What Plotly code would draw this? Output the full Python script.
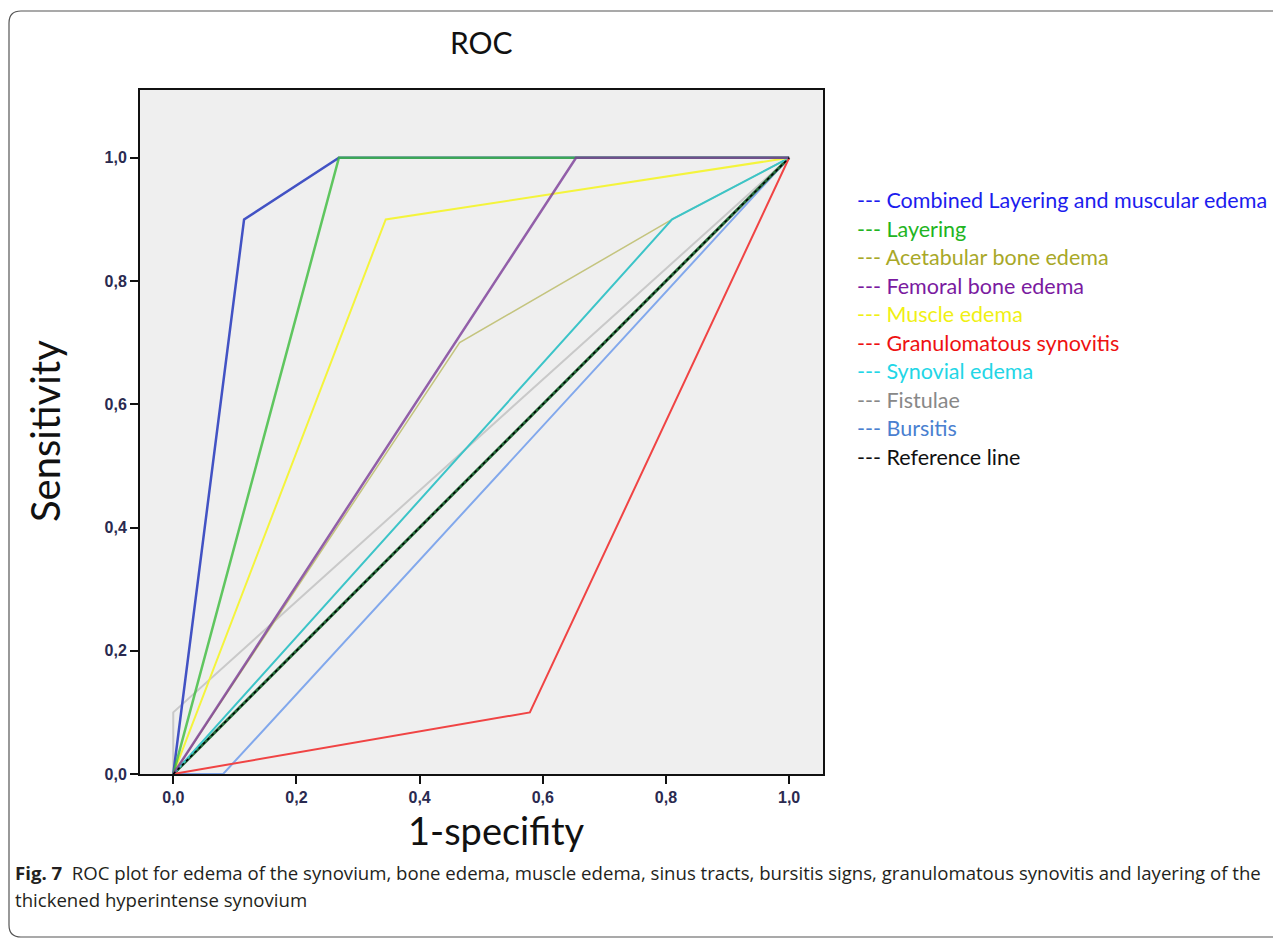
import plotly.graph_objects as go

# ---------------- data ----------------
chart_title = "ROC"
x_title = "1-specifity"
y_title = "Sensitivity"
tick_vals = [0.0, 0.2, 0.4, 0.6, 0.8, 1.0]
tick_text = ["0,0", "0,2", "0,4", "0,6", "0,8", "1,0"]

combined_x = [0.0, 0.115, 0.269, 1.0]
combined_y = [0.0, 0.9, 1.0, 1.0]
layering_x = [0.0, 0.269, 1.0]
layering_y = [0.0, 1.0, 1.0]
acetabular_x = [0.0, 0.465, 0.81, 1.0]
acetabular_y = [0.0, 0.7, 0.9, 1.0]
femoral_x = [0.0, 0.654, 1.0]
femoral_y = [0.0, 1.0, 1.0]
muscle_x = [0.0, 0.345, 1.0]
muscle_y = [0.0, 0.9, 1.0]
granulomatous_x = [0.0, 0.579, 1.0]
granulomatous_y = [0.0, 0.1, 1.0]
synovial_x = [0.0, 0.81, 1.0]
synovial_y = [0.0, 0.9, 1.0]
fistulae_x = [0.0, 0.0, 1.0]
fistulae_y = [0.0, 0.1, 1.0]
bursitis_x = [0.0, 0.081, 1.0]
bursitis_y = [0.0, 0.0, 1.0]
reference_x = [0.0, 1.0]
reference_y = [0.0, 1.0]

legend_labels = [
    "Combined Layering and muscular edema",
    "Layering",
    "Acetabular bone edema",
    "Femoral bone edema",
    "Muscle edema",
    "Granulomatous synovitis",
    "Synovial edema",
    "Fistulae",
    "Bursitis",
    "Reference line",
]
legend_colors = ["#1c1cee", "#22b422", "#a8a828", "#7a1aa0", "#f0f014",
                 "#ee1111", "#22d6e6", "#888888", "#4a80d0", "#111111"]

caption_bold = "Fig. 7"
caption_line1 = ("ROC plot for edema of the synovium, bone edema, muscle edema, sinus tracts, "
                 "bursitis signs, granulomatous synovitis and layering of the")
caption_line2 = "thickened hyperintense synovium"

# ---------------- figure ----------------
OFF = 8                      # page body margin in the browser
W, H = 1281 - OFF, 940 - OFF
L, R, T, B = 140, 823, 90, 774  # plot-area pixel box in window coordinates


def px(x):
    return (x - L) / (R - L)


def py(y):
    return (B - y) / (B - T)


fig = go.Figure()

traces = [
    (fistulae_x, fistulae_y, "#c9c9c9", 2, 1.0, "Fistulae"),
    (bursitis_x, bursitis_y, "#82a8ec", 2, 1.0, "Bursitis"),
    (reference_x, reference_y, "#256b3a", 3, 1.0, "Reference line"),
    (acetabular_x, acetabular_y, "#c4c47e", 1.5, 1.0, "Acetabular bone edema"),
    (synovial_x, synovial_y, "#3cc4c8", 2, 1.0, "Synovial edema"),
    (granulomatous_x, granulomatous_y, "#f04444", 2, 1.0, "Granulomatous synovitis"),
    (muscle_x, muscle_y, "#f4f43c", 2, 1.0, "Muscle edema"),
    (combined_x, combined_y, "#4252c4", 2.5, 1.0, "Combined Layering and muscular edema"),
    (layering_x, layering_y, "#3cbc3c", 2.5, 0.8, "Layering"),
    (femoral_x, femoral_y, "#7c3c98", 2.5, 0.8, "Femoral bone edema"),
]
for xs, ys, col, w, op, name in traces:
    fig.add_trace(go.Scatter(x=xs, y=ys, mode="lines", name=name, opacity=op,
                             line=dict(color=col, width=w), hoverinfo="skip"))
# black dotted overlay on the reference line
fig.add_trace(go.Scatter(x=reference_x, y=reference_y, mode="lines", name="Reference line",
                         line=dict(color="#000000", width=1.5, dash="dot"),
                         hoverinfo="skip", showlegend=False))

tick_font = dict(family="Arial, Liberation Sans", size=16, color="#2a2a50")
axis_style = dict(tickvals=tick_vals,
                  ticktext=["<b>%s</b>" % t for t in tick_text],
                  showgrid=False, zeroline=False, showline=True, mirror=True,
                  linecolor="#111111", linewidth=2, ticks="outside", ticklen=8,
                  tickwidth=2, tickcolor="#111111", tickfont=tick_font)
fig.update_xaxes(range=[-0.054, 1.055], **axis_style)
fig.update_yaxes(range=[0, 1.11], **axis_style)

ann = []
ann.append(dict(text=chart_title, x=px(481), y=py(42), xref="paper", yref="paper",
                showarrow=False, xanchor="center", yanchor="middle",
                font=dict(family="Lato", size=30, color="#111111")))
ann.append(dict(text=x_title, x=px(496), y=py(830), xref="paper", yref="paper",
                showarrow=False, xanchor="center", yanchor="middle",
                font=dict(family="Lato", size=38, color="#111111")))
ann.append(dict(text=y_title, x=px(45), y=py(431), xref="paper", yref="paper",
                showarrow=False, xanchor="center", yanchor="middle", textangle=-90,
                font=dict(family="Lato", size=40, color="#111111")))
for i, (lab, col) in enumerate(zip(legend_labels, legend_colors)):
    ann.append(dict(text="--- " + lab, x=px(855), y=py(200 + 28.5 * i),
                    xref="paper", yref="paper", showarrow=False,
                    xanchor="left", yanchor="middle",
                    font=dict(family="Lato", size=21.5, color=col)))
ann.append(dict(text="<b>" + caption_bold + "</b>  " + caption_line1, x=px(13), y=py(872),
                xref="paper", yref="paper", showarrow=False, xanchor="left", yanchor="middle",
                font=dict(family="Open Sans", size=18.6, color="#231f20")))
ann.append(dict(text=caption_line2, x=px(13), y=py(899),
                xref="paper", yref="paper", showarrow=False, xanchor="left", yanchor="middle",
                font=dict(family="Open Sans", size=18.6, color="#231f20")))

# rounded frame around the figure
fx0, fy0, fy1, fx1, r = 9, 11, 937, 1295, 12
frame_path = (f"M {px(fx1)},{py(fy0)} L {px(fx0 + r)},{py(fy0)} "
              f"Q {px(fx0)},{py(fy0)} {px(fx0)},{py(fy0 + r)} "
              f"L {px(fx0)},{py(fy1 - r)} "
              f"Q {px(fx0)},{py(fy1)} {px(fx0 + r)},{py(fy1)} "
              f"L {px(fx1)},{py(fy1)}")
shapes = [dict(type="path", path=frame_path, xref="paper", yref="paper",
               line=dict(color="#555555", width=1.2))]

fig.update_layout(width=W, height=H,
                  margin=dict(l=L - OFF, r=(W + OFF) - R, t=T - OFF, b=(H + OFF) - B, pad=0),
                  plot_bgcolor="#efefef", paper_bgcolor="#ffffff",
                  showlegend=False, annotations=ann, shapes=shapes)

fig.write_html("out.html")
